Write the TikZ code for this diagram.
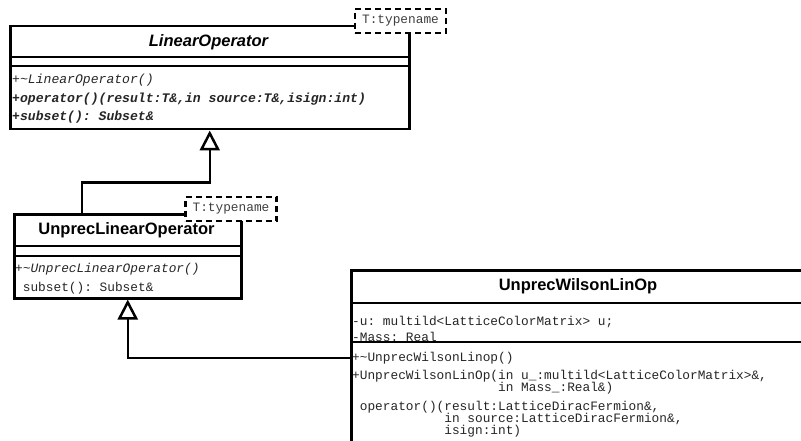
\documentclass[tikz,border=0pt]{standalone}
\usepackage{fontspec}
\setmainfont{Liberation Sans}
\setmonofont{Liberation Mono}
\usetikzlibrary{arrows.meta}
\begin{document}
\begin{tikzpicture}[x=1pt,y=-1pt,
  classbox/.style={draw,line width=2.5pt,fill=white,inner sep=0pt,anchor=north west},
  sepline/.style={line width=2.5pt},
  tmplbox/.style={draw,line width=2.5pt,dash pattern=on 6pt off 4pt,fill=white,inner sep=0pt,
    minimum width=91pt,minimum height=24pt,font=\fontsize{12.8}{15}\selectfont\ttfamily,text=black!75},
  ttl/.style={font=\fontsize{16.5}{19}\selectfont\bfseries,inner sep=0pt},
  member/.style={font=\fontsize{12.8}{15}\selectfont\ttfamily,inner sep=0pt,anchor=base west,text=black!85},
  inherit/.style={line width=2.5pt,-{Triangle[length=20pt,width=20pt,fill=white]}}]
\useasboundingbox (0,0) rectangle (801,441);
\clip (0,0) rectangle (801,441);

% ---- LinearOperator (abstract template class)
\node[classbox,minimum width=399pt,minimum height=103pt] (lin) at (9,25) {};
\draw[sepline] ([yshift=-32pt]lin.north west) -- ([yshift=-32pt]lin.north east);
\draw[sepline] ([yshift=-41pt]lin.north west) -- ([yshift=-41pt]lin.north east);
\node[ttl] (linT) at (208.5,42) {\itshape LinearOperator};
\node[member,font=\fontsize{13.1}{15}\selectfont\ttfamily] (lin1) at (12,84) {\itshape +\textasciitilde LinearOperator()};
\node[member,font=\fontsize{13.1}{15}\selectfont\ttfamily] (lin2) at (12,103) {\bfseries\itshape +operator()(result:T\&,in source:T\&,isign:int)};
\node[member,font=\fontsize{13.1}{15}\selectfont\ttfamily] (lin3) at (12,121) {\bfseries\itshape +subset(): Subset\&};
\node[tmplbox] (linP) at (400.5,21) {T:typename};

% ---- UnprecLinearOperator
\node[classbox,minimum width=227pt,minimum height=84pt] (ulo) at (13,213) {};
\draw[sepline] ([yshift=-33pt]ulo.north west) -- ([yshift=-33pt]ulo.north east);
\draw[sepline] ([yshift=-43pt]ulo.north west) -- ([yshift=-43pt]ulo.north east);
\node[ttl] (uloT) at (126.5,230) {UnprecLinearOperator};
\node[member] (ulo1) at (15,272) {\itshape +\textasciitilde UnprecLinearOperator()};
\node[member] (ulo2) at (15,291) {\hphantom{x}subset(): Subset\&};
\node[tmplbox] (uloP) at (231,209) {T:typename};

% ---- UnprecWilsonLinOp
\node[classbox,minimum width=456pt,minimum height=200pt] (uwl) at (350,269) {};
\draw[sepline] ([yshift=-34pt]uwl.north west) -- ([yshift=-34pt]uwl.north east);
\draw[sepline] ([yshift=-73pt]uwl.north west) -- ([yshift=-73pt]uwl.north east);
\node[ttl] (uwlT) at (578,286) {UnprecWilsonLinOp};
\node[member] (uwa1) at (352,325) {-u: multild<LatticeColorMatrix> u;};
\node[member] (uwa2) at (352,341) {-Mass: Real};
\node[member] (uwm1) at (352,361) {+\textasciitilde UnprecWilsonLinop()};
\node[member] (uwm2) at (352,379) {+UnprecWilsonLinOp(in u\_:multild<LatticeColorMatrix>\&,};
\node[member] (uwm3) at (352,391) {\hphantom{+UnprecWilsonLinOp(}in Mass\_:Real\&)};
\node[member] (uwm4) at (352,410) {\hphantom{x}operator()(result:LatticeDiracFermion\&,};
\node[member] (uwm5) at (352,422) {\hphantom{xoperator()(}in source:LatticeDiracFermion\&,};
\node[member] (uwm6) at (352,434) {\hphantom{xoperator()(}isign:int)};

% ---- generalisation connectors
\draw[inherit] ([xshift=69pt]ulo.north west) |- ([yshift=-52pt]lin.south) -- (lin.south);
\draw[inherit] ([yshift=-89pt]uwl.north west) -| (ulo.south);
\end{tikzpicture}
\end{document}
